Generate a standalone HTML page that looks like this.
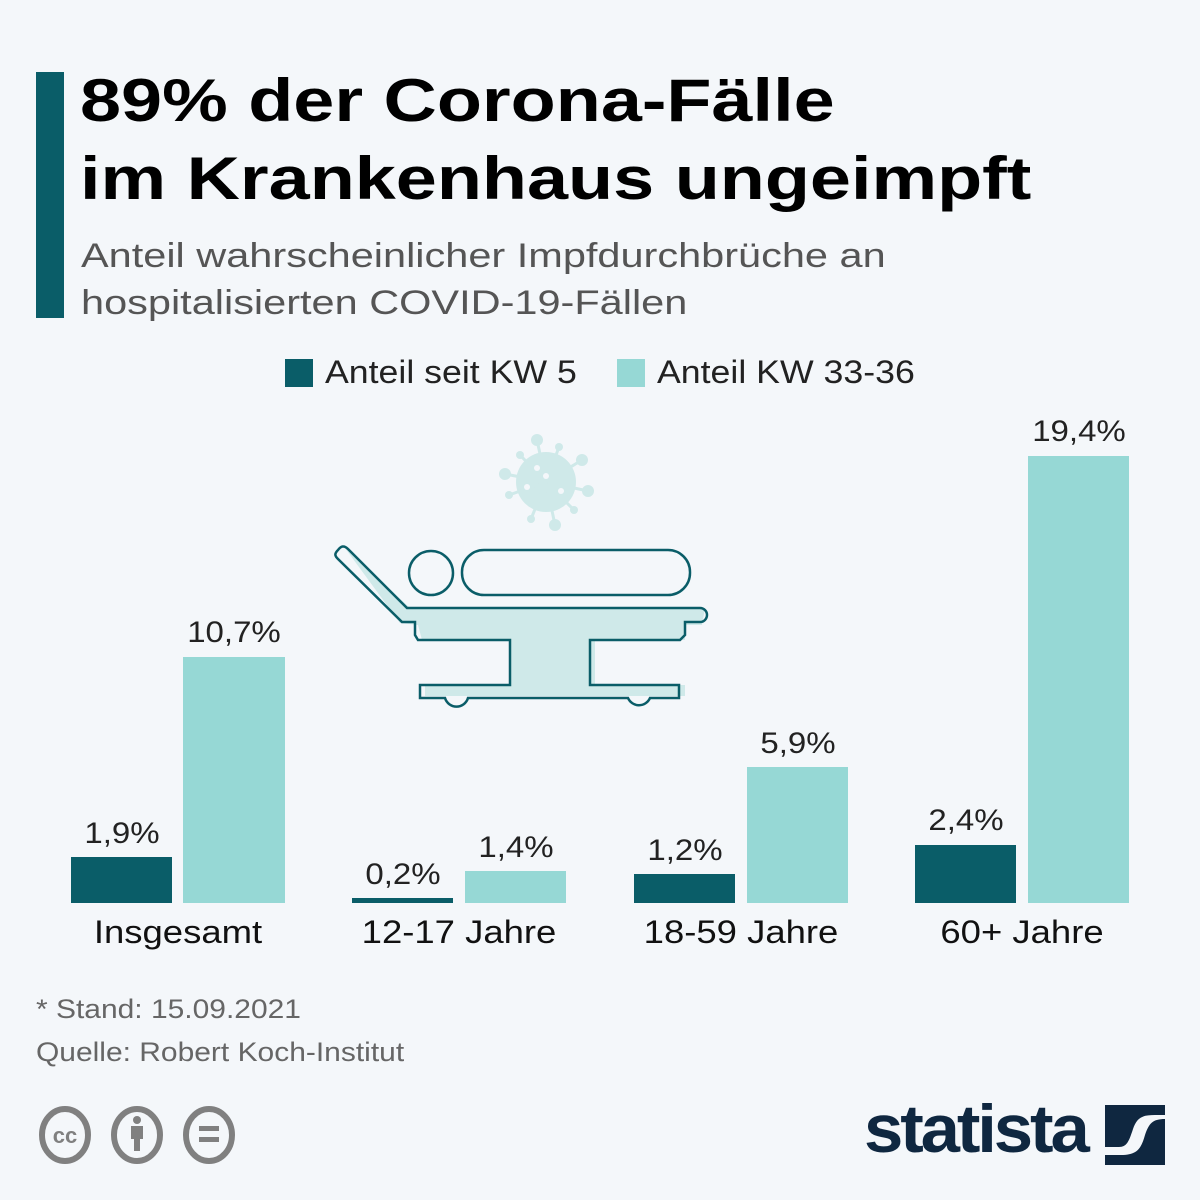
<!DOCTYPE html>
<html><head><meta charset="utf-8"><style>
body{margin:0;width:1200px;height:1200px;background:#f4f7fa;font-family:"Liberation Sans","DejaVu Sans",sans-serif;position:relative;overflow:hidden}
.a{position:absolute;white-space:nowrap;transform-origin:left}
.t{font-weight:bold;font-size:60px;color:#000;left:80px;line-height:78px;transform:scaleX(1.23)}
.s{font-size:34px;color:#555;left:81px;line-height:46px;transform:scaleX(1.22)}
.bar{position:absolute}
.d{background:#0a5d68}.l{background:#96d8d5}
.v{position:absolute;font-size:30px;color:#222;text-align:center;width:140px;transform:scaleX(1.1)}
.c{position:absolute;font-size:32px;color:#111;text-align:center;width:260px;top:914px;transform:scaleX(1.14)}
.f{font-size:27px;color:#666;left:36px;transform:scaleX(1.11)}
</style></head><body>
<div class="a" style="left:36px;top:72px;width:28px;height:246px;background:#0a5d68"></div>
<div class="a t" style="top:62px">89% der Corona-Fälle</div>
<div class="a t" style="top:140px">im Krankenhaus ungeimpft</div>
<div class="a s" style="top:233px">Anteil wahrscheinlicher Impfdurchbrüche an</div>
<div class="a s" style="top:280px">hospitalisierten COVID-19-Fällen</div>
<div class="a" style="left:285px;top:359px;width:28px;height:28px;background:#0a5d68"></div>
<div class="a" style="left:325px;top:354px;font-size:32px;color:#222;transform:scaleX(1.115)">Anteil seit KW 5</div>
<div class="a" style="left:617px;top:359px;width:28px;height:28px;background:#96d8d5"></div>
<div class="a" style="left:657px;top:354px;font-size:32px;color:#222;transform:scaleX(1.115)">Anteil KW 33-36</div>

<svg class="a" style="left:330px;top:430px" width="390" height="290" viewBox="0 0 390 290">
<g fill="#cfe9e9">
<circle cx="216" cy="52" r="30"/>
<g stroke="#cfe9e9" stroke-width="3">
<line x1="216" y1="52" x2="207" y2="10"/><line x1="216" y1="52" x2="229" y2="17"/><line x1="216" y1="52" x2="252" y2="30"/><line x1="216" y1="52" x2="258" y2="61"/><line x1="216" y1="52" x2="244" y2="80"/><line x1="216" y1="52" x2="225" y2="95"/><line x1="216" y1="52" x2="201" y2="89"/><line x1="216" y1="52" x2="179" y2="65"/><line x1="216" y1="52" x2="175" y2="44"/><line x1="216" y1="52" x2="190" y2="25"/></g>
<circle cx="207" cy="10" r="6"/><circle cx="229" cy="17" r="4"/><circle cx="252" cy="30" r="6"/><circle cx="258" cy="61" r="6"/><circle cx="244" cy="80" r="4"/><circle cx="225" cy="95" r="6"/><circle cx="201" cy="89" r="4"/><circle cx="179" cy="65" r="4"/><circle cx="175" cy="44" r="6"/><circle cx="190" cy="25" r="4"/>
<path d="M15 118 L80 178 L375 178 L372 195 L355 195 L355 210 L265 210 L265 255 L355 255 L355 266 L95 266 L95 255 L180 255 L180 210 L92 210 L88 195 L70 193 Z"/>
</g>
<g><circle cx="216" cy="46" r="3" fill="#f4f7fa"/><circle cx="197" cy="57" r="3" fill="#f4f7fa"/><circle cx="231" cy="61" r="3" fill="#f4f7fa"/><circle cx="207" cy="38" r="3" fill="#f4f7fa"/></g>
<g fill="none" stroke="#0a5d68" stroke-width="2.5">
<circle cx="101" cy="143" r="22"/>
<rect x="132" y="120" width="228" height="45" rx="22"/>
<path d="M8 120 C4 124 5 126 8 129 L72 192 L85 192 L85 205 L88 210 L180 210 L180 255 L90 255 L90 268 L115 268 A12 12 0 0 0 138 268 L298 268 A12 12 0 0 0 320 268 L349 268 L349 255 L260 255 L260 210 L350 210 L355 205 L355 192 L370 192 A6 6 0 0 0 370 178 L77 178 L18 119 C14 115 11 116 8 120 Z"/>
</g>
</svg>

<div class="bar d" style="left:71px;top:857px;width:101px;height:46px"></div>
<div class="bar l" style="left:183px;top:657px;width:102px;height:246px"></div>
<div class="bar d" style="left:352px;top:898px;width:101px;height:5px"></div>
<div class="bar l" style="left:465px;top:871px;width:101px;height:32px"></div>
<div class="bar d" style="left:634px;top:874px;width:101px;height:29px"></div>
<div class="bar l" style="left:747px;top:767px;width:101px;height:136px"></div>
<div class="bar d" style="left:915px;top:845px;width:101px;height:58px"></div>
<div class="bar l" style="left:1028px;top:456px;width:101px;height:447px"></div>

<div class="v" style="left:52px;top:817px">1,9%</div>
<div class="v" style="left:164px;top:616px">10,7%</div>
<div class="v" style="left:333px;top:858px">0,2%</div>
<div class="v" style="left:446px;top:831px">1,4%</div>
<div class="v" style="left:615px;top:834px">1,2%</div>
<div class="v" style="left:728px;top:727px">5,9%</div>
<div class="v" style="left:896px;top:804px">2,4%</div>
<div class="v" style="left:1009px;top:415px">19,4%</div>

<div class="c" style="left:48px">Insgesamt</div>
<div class="c" style="left:329px">12-17 Jahre</div>
<div class="c" style="left:611px">18-59 Jahre</div>
<div class="c" style="left:892px">60+ Jahre</div>

<div class="a f" style="top:994px">* Stand: 15.09.2021</div>
<div class="a f" style="top:1037px">Quelle: Robert Koch-Institut</div>

<svg class="a" style="left:34px;top:1104px" width="210" height="62">
<g fill="none" stroke="#808080" stroke-width="6"><ellipse cx="31" cy="31" rx="23" ry="26"/><ellipse cx="103" cy="31" rx="23" ry="26"/><ellipse cx="175" cy="31" rx="23" ry="26"/></g>
<text x="31" y="39" font-size="22" font-weight="bold" fill="#808080" text-anchor="middle" font-family="Liberation Sans">cc</text>
<circle cx="103" cy="16" r="4" fill="#808080"/><rect x="97" y="22" width="12" height="13" fill="#808080"/><rect x="100" y="33" width="6" height="14" fill="#808080"/>
<rect x="165" y="22" width="20" height="5" fill="#808080"/><rect x="165" y="33" width="20" height="5" fill="#808080"/>
</svg>
<div class="a" style="left:864px;top:1090px;font-size:68px;font-weight:bold;color:#0f2740;letter-spacing:-3px;transform:scaleX(1.04)">statista</div>
<svg class="a" style="left:1105px;top:1105px" width="60" height="60"><rect width="60" height="60" fill="#0f2740"/><path d="M0 42 L14 42 C22 42 24 36 28 24 C32 12 38 10 50 10 L60 10 L60 14 C48 14 44 18 40 30 C36 44 32 50 16 50 L0 50 Z" fill="#f4f7fa"/></svg>
</body></html>
